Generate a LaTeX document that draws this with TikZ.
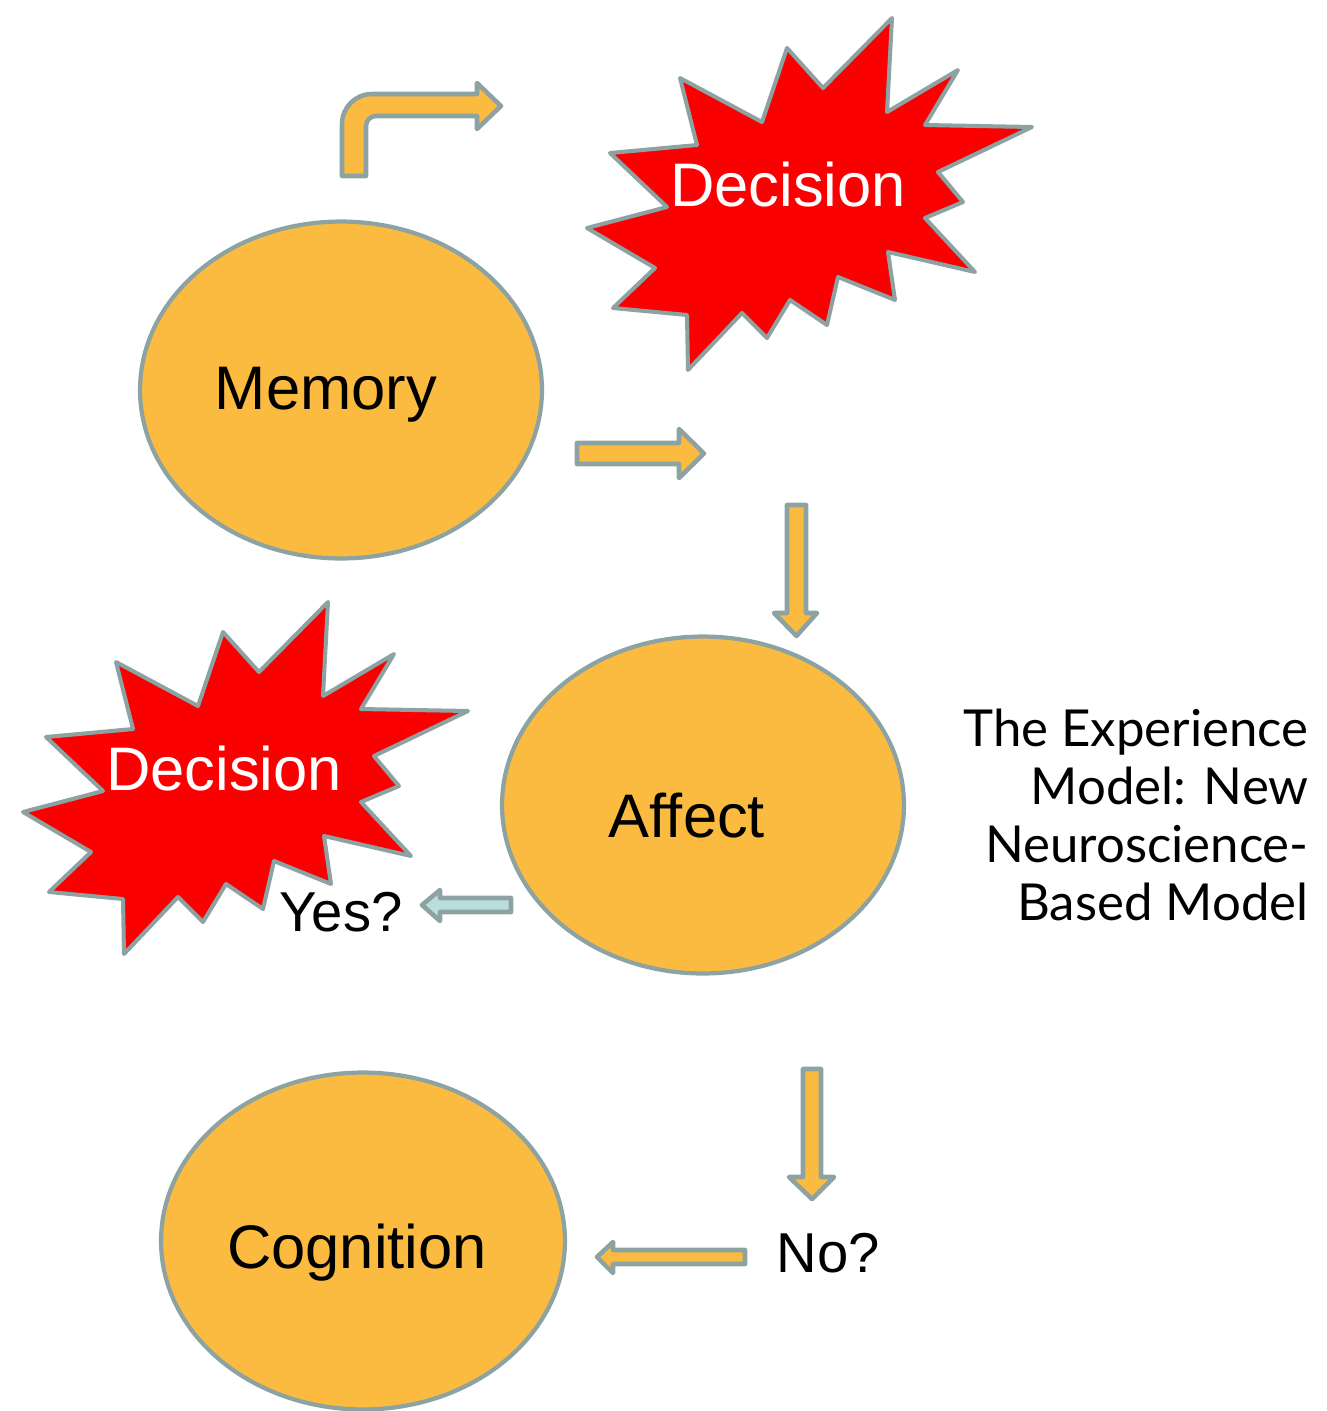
\documentclass[tikz,border=0pt]{standalone}
\usepackage{fontspec}
\setmainfont{Liberation Sans}
\newfontfamily\titlefont{Lato}
\usetikzlibrary{shapes}

\definecolor{blobfill}{HTML}{FBBA40}
\definecolor{edgegray}{HTML}{8DA3A3}
\definecolor{burstred}{HTML}{FA0000}
\definecolor{paleblue}{HTML}{B9DEE0}

\begin{document}
\begin{tikzpicture}[x=0.02cm,y=-0.02cm]
\tikzstyle{blob}=[ellipse,draw=edgegray,fill=blobfill,line width=2.4pt,minimum width=8.04cm,minimum height=6.74cm,inner sep=0pt]
\tikzstyle{blobtext}=[font=\fontsize{35}{40}\selectfont,inner sep=0pt]
\tikzstyle{bursttext}=[text=white,font=\fontsize{35}{40}\selectfont,inner sep=0pt]
\tikzstyle{answer}=[font=\fontsize{32}{38}\selectfont,inner sep=0pt]
\tikzstyle{burst}=[draw=edgegray,fill=burstred,line width=2.3pt,line join=round]
\tikzstyle{fatarrow}=[draw=edgegray,fill=blobfill,line width=2.6pt,line join=round]

\useasboundingbox (0,0) rectangle (1327,1411);

%decision bursts.
\foreach \dx/\dy/\nm in {0/0/top, -564/584/low}{
  \begin{scope}[shift={(\dx,\dy)}]
    \draw[burst] (892,18) -- (887,112) -- (958,70) -- (925,125) -- (1032,127)
      -- (938,172) -- (963,202) -- (925,218) -- (975,272) -- (888,252)
      -- (895,300) -- (838,277) -- (827,325) -- (790,300) -- (767,338)
      -- (742,313) -- (688,370) -- (687,315) -- (613,308) -- (655,268)
      -- (587,228) -- (667,207) -- (610,153) -- (697,145) -- (680,78)
      -- (762,122) -- (787,48) -- (823,88) -- cycle;
    \node[bursttext] (decision_\nm) at (788,185) {Decision};
  \end{scope}
}

%the three blobs.
\node[blob] (memory) at (341,390) {};
\node[blobtext] (memory_text) at (326,395) {Memory};
\node[blob] (affect) at (703,805) {};
\node[blobtext] (affect_text) at (687,816) {Affect};
\node[blob,minimum width=8.08cm] (cognition) at (363,1241) {};
\node[blobtext] (cognition_text) at (357,1253) {Cognition};

\node[answer] (yes_answer) at (341,912) {Yes?};
\node[answer] (no_answer) at (828,1253) {No?};

\node[align=right,anchor=east,inner sep=0pt,font=\titlefont\fontsize{29}{33}\selectfont] (model_title) at (1309,815)
  {The Experience\\Model: New\\Neuroscience-\\Based Model};

%block arrows.
\draw[fatarrow] (342,176) [rounded corners=0.6cm]-- (342,94) [sharp corners]-- (477,94) -- (477,83) -- (501,106)
  -- (477,129) -- (477,116) [rounded corners=0.2cm]-- (366,116) [sharp corners]-- (366,176) -- cycle;
\draw[fatarrow] (577,443) -- (679,443) -- (679,429) -- (704,453.5) -- (679,478) -- (679,464) -- (577,464) -- cycle;
\draw[fatarrow] (787,505) -- (806,505) -- (806,613) -- (817,613) -- (796.5,636) -- (774,613) -- (787,613) -- cycle;
\draw[fatarrow] (803,1069) -- (821,1069) -- (821,1177) -- (834,1177) -- (812,1199) -- (789,1177) -- (803,1177) -- cycle;
\draw[fatarrow] (745,1250) -- (613,1250) -- (613,1242) -- (597,1257) -- (613,1273) -- (613,1264) -- (745,1264) -- cycle;
\draw[fatarrow,fill=paleblue] (511,898) -- (440,898) -- (440,890) -- (422,905) -- (440,921) -- (440,912) -- (511,912) -- cycle;

\end{tikzpicture}
\end{document}
